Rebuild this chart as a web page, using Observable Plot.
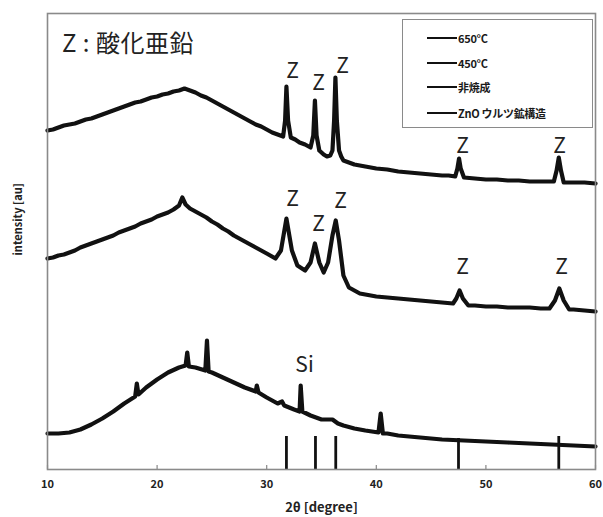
<!DOCTYPE html>
<html>
<head>
<meta charset="utf-8">
<script src="https://cdn.jsdelivr.net/npm/d3@7"></script>
<script src="https://cdn.jsdelivr.net/npm/@observablehq/plot@0.6"></script>
<style>
  html, body { margin: 0; padding: 0; background: #fff; }
  #wrap { position: relative; width: 603px; height: 517px; }
  #legend { position: absolute; left: 402px; top: 19px; width: 189px; height: 107px;
    border: 1.5px solid #8a8a8a; background: #fff; font-family: "Noto Sans CJK JP", sans-serif;
    font-weight: bold; font-size: 11px; color: #1a1a1a; letter-spacing: -0.3px; }
  .item { position: absolute; left: 24px; height: 14px; display: flex; align-items: center; }
  .item .ln { width: 30px; height: 0; border-top: 2.4px solid #111; margin-right: 1px; }
  #title { position: absolute; left: 62px; top: 24px; font-family: "Noto Sans CJK JP", sans-serif;
    font-size: 24px; color: #222; letter-spacing: 0.5px; }
</style>
</head>
<body>
<div id="wrap"></div>
<script>
// ---- data (2θ in degrees, intensity in arbitrary units) ----
const tTop = [10,10.5,11,11.5,12,12.5,13,13.5,14,14.5,15,15.5,16,16.5,17,17.5,18,18.5,19,19.5,20,20.5,21,21.5,22,22.5,23,23.5,24,24.5,25,25.5,26,26.5,27,27.5,28,28.5,29,29.5,30,30.5,31,31.5,31.68,31.8,31.95,32.2,32.6,33,33.5,34,34.25,34.4,34.55,34.8,35.2,35.5,35.8,36.0,36.15,36.27,36.4,36.6,36.8,37,37.5,38,39,40,41,42,43,44,45,46,46.6,47.2,47.4,47.55,47.7,48,49,50,51,52,53,54,55,56.2,56.45,56.65,56.85,57.1,58,59,60];
const iTop = [339,340,342,344,345,346,348,350,351,353,355,357,359,361,363,365,367,368,370,372,373,375,376,378,379,381,379,377,374,372,369,366,363,360,357,354,351,348,345,343,340,337,335,333,349,383,349,332,330,327,325,322,334,369,334,319,315,313,314,319,349,392,349,319,313,309,307,305,303,301,300,298,297,296,295,294,294,293,301,311,301,292,291,290,290,289,289,288,288,288,299,312,299,287,287,287,286];

const tMid = [10,10.5,11,11.5,12,12.5,13,13.5,14,14.5,15,15.5,16,16.5,17,17.5,18,18.5,19,19.5,20,20.5,21,21.5,22,22.3,22.6,23,23.5,24,24.5,25,25.5,26,26.5,27,27.5,28,28.5,29,29.5,30,30.8,31.3,31.8,32.3,32.8,33.5,34.0,34.4,34.8,35.2,35.6,36.0,36.3,36.6,37.0,37.5,38.5,39,40,41,42,43,44,45,46,47.0,47.3,47.6,47.9,48.4,49,50,51,52,53,54,55,55.8,56.3,56.7,57.1,57.6,58,59,60];
const iMid = [211,212,214,215,217,219,222,224,226,228,230,232,234,237,239,241,243,246,248,250,253,255,257,260,264,272,265,261,258,255,252,248,245,241,238,234,231,228,225,222,219,216,211,219,251,219,204,199,207,226,207,197,207,234,249,229,194,182,176,175,173,172,171,170,169,168,167,166,171,179,171,164,164,163,163,162,162,162,161,161,169,181,169,160,160,159,158];

const tBot = [10,11,12,13,14,15,16,17,18,18.15,18.3,19,20,21,22,22.6,22.75,22.9,23.5,24.4,24.55,24.7,25,26,27,28,29,29.1,29.25,30,31,31.4,31.6,32.5,33.0,33.1,33.25,34,35,36,36.5,37,38,39,40.2,40.4,40.6,41,42,44,46,48,50,52,54,56,58,60];
const iBot = [36,36,37,40,45,51,58,66,73,86,75,82,90,97,102,104,117,103,102,99,129,98,97,92,87,82,78,84,77,72,66,68,64,60,58,84,58,54,50,50,46,44,41,39,37,56,36,36,34,32,30,29,28,27,26,25,24,23];

// ZnO wurtzite reference lines
const refPos = [31.8, 34.45, 36.3, 47.5, 56.65];
const refInt = [33, 33, 33, 31, 33];

// peak annotations
const zTopX = [32.35, 34.73, 36.92, 47.87, 56.72];
const zTopY = [398, 386, 403, 323, 323];
const zMidX = [32.35, 34.73, 36.73, 47.87, 56.9];
const zMidY = [270, 245, 268, 202, 202];
const siX = [33.45];
const siY = [104];

const xTicks = [10, 20, 30, 40, 50, 60];
const legendLabels = ["650°C", "450°C", "非焼成", "ZnO ウルツ鉱構造"];
const titleText = "Z : 酸化亜鉛";

// ---- build ----
const zip = (xs, ys) => xs.map((x, i) => ({x, y: ys[i]}));
const topData = zip(tTop, iTop);
const midData = zip(tMid, iMid);
const botData = zip(tBot, iBot);
const refData = zip(refPos, refInt);
const zLabels = [...zip(zTopX, zTopY), ...zip(zMidX, zMidY)].map(d => ({...d, t: "Z"}));
const siLabels = zip(siX, siY).map(d => ({...d, t: "Si"}));

const font = "'Noto Sans CJK JP', sans-serif";
const lineStyle = {x: "x", y: "y", stroke: "#111", strokeWidth: 4.2, strokeLinejoin: "round", strokeLinecap: "round"};

const chart = Plot.plot({
  width: 603,
  height: 517,
  marginLeft: 47,
  marginRight: 8,
  marginTop: 13,
  marginBottom: 48,
  style: {fontFamily: font, background: "#fff"},
  x: {domain: [10, 60]},
  y: {domain: [0, 456]},
  marks: [
    Plot.ruleX(xTicks, {y1: 0, y2: 4, stroke: "#888", strokeWidth: 1.2}),
    Plot.ruleX(refData, {x: "x", y1: 0, y2: "y", stroke: "#111", strokeWidth: 2.8}),
    Plot.line(botData, lineStyle),
    Plot.line(midData, lineStyle),
    Plot.line(topData, lineStyle),
    Plot.text([...zLabels, ...siLabels], {x: "x", y: "y", text: "t", fontSize: 21, fill: "#222", lineAnchor: "middle"}),
    Plot.frame({stroke: "#8a8a8a", strokeWidth: 1.6}),
    Plot.axisX(xTicks, {tickSize: 0, tickPadding: 11, fontSize: 11, fontWeight: "bold", fill: "#222", label: null}),
    Plot.axisY({ticks: [], label: null, tickSize: 0}),
    Plot.text(["2θ [degree]"], {frameAnchor: "bottom", dy: 38, fontSize: 13, fontWeight: "bold", fill: "#222", lineAnchor: "middle"}),
    Plot.text(["intensity [au]"], {frameAnchor: "left", dx: -29, dy: 14, rotate: -90, fontSize: 11, fontWeight: "bold", fill: "#222", lineAnchor: "middle"})
  ]
});

const wrap = document.getElementById("wrap");
wrap.appendChild(chart);

const title = document.createElement("div");
title.id = "title";
title.textContent = titleText;
wrap.appendChild(title);

const legend = document.createElement("div");
legend.id = "legend";
const tops = [11, 36, 60, 86];
legendLabels.forEach((lab, i) => {
  const it = document.createElement("div");
  it.className = "item";
  it.style.top = tops[i] + "px";
  const ln = document.createElement("span");
  ln.className = "ln";
  const tx = document.createElement("span");
  tx.textContent = lab;
  it.appendChild(ln);
  it.appendChild(tx);
  legend.appendChild(it);
});
wrap.appendChild(legend);
</script>
</body>
</html>
